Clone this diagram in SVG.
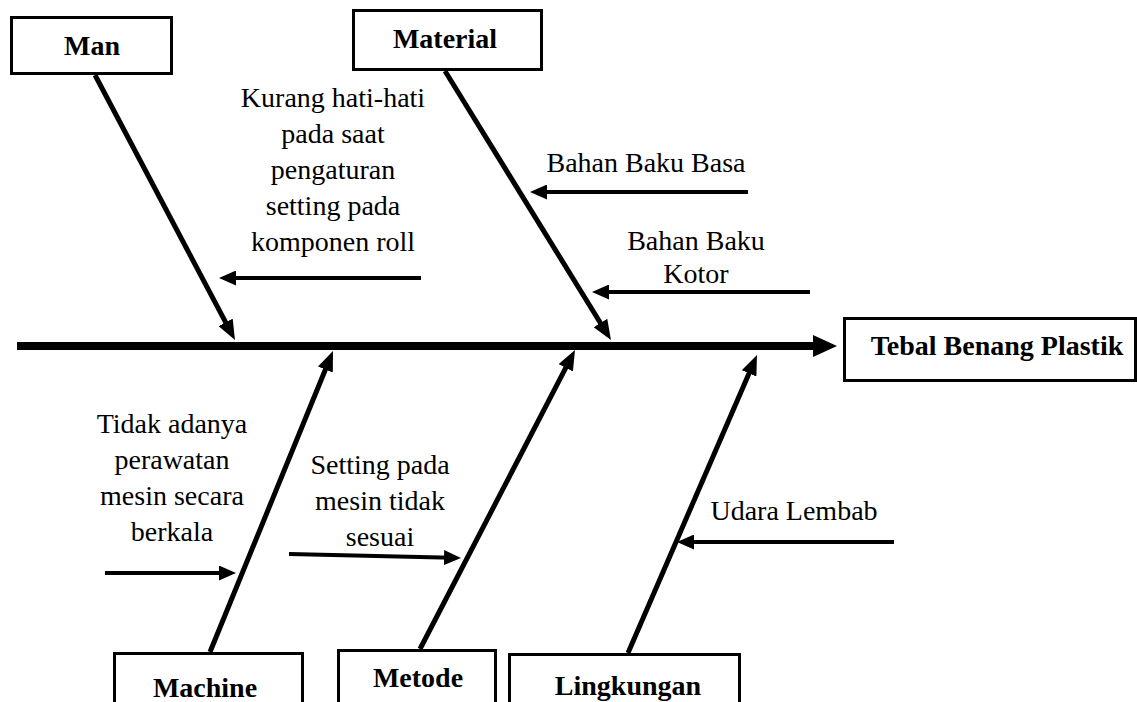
<svg xmlns="http://www.w3.org/2000/svg" width="1137" height="702" viewBox="0 0 1137 702">
  <style>
    .box { fill: #fff; stroke: #000; stroke-width: 3; }
    .lbl { font-family: "Liberation Serif", "Times New Roman", serif; font-size: 28px; font-weight: bold; fill: #000; text-anchor: middle; }
    .txt { font-family: "Liberation Serif", "Times New Roman", serif; font-size: 28px; fill: #000; text-anchor: middle; }
    .spine { stroke: #000; stroke-width: 8; fill: none; marker-end: url(#head-m); }
    .bone { stroke: #000; stroke-width: 5; fill: none; marker-end: url(#head-b); }
    .cause { stroke: #000; stroke-width: 4; fill: none; marker-end: url(#head-s); }
  </style>
  <defs>
    <marker id="head-m" markerUnits="userSpaceOnUse" viewBox="0 0 24 22" markerWidth="24" markerHeight="22" refX="12" refY="11" orient="auto">
      <path d="M0,0 L24,11 L0,22 z" fill="#000"/>
    </marker>
    <marker id="head-b" markerUnits="userSpaceOnUse" viewBox="0 0 20 16" markerWidth="20" markerHeight="16" refX="10" refY="8" orient="auto">
      <path d="M0,0 L20,8 L0,16 z" fill="#000"/>
    </marker>
    <marker id="head-s" markerUnits="userSpaceOnUse" viewBox="0 0 17 15" markerWidth="17" markerHeight="15" refX="8" refY="7.5" orient="auto">
      <path d="M0,0 L17,7.5 L0,15 z" fill="#000"/>
    </marker>
  </defs>

  <rect width="1137" height="702" fill="#fff"/>

  <!-- connectors: spine, category bones and cause arrows -->
  <g id="connectors">
    <line class="spine" x1="17" y1="346" x2="825" y2="346"/>

    <line class="bone" x1="95" y1="75" x2="230.3" y2="331.2"/>
    <line class="bone" x1="445" y1="71" x2="605.7" y2="331.5"/>
    <line class="bone" x1="210" y1="652" x2="329.2" y2="360.3"/>
    <line class="bone" x1="420" y1="649" x2="570.4" y2="358.9"/>
    <line class="bone" x1="628" y1="653" x2="753" y2="364.2"/>

    <line class="cause" x1="421" y1="278" x2="228" y2="278"/>
    <line class="cause" x1="748" y1="192" x2="539" y2="192"/>
    <line class="cause" x1="810" y1="292" x2="601" y2="292"/>
    <line class="cause" x1="105" y1="573" x2="227" y2="573"/>
    <line class="cause" x1="289" y1="554" x2="452" y2="557.8"/>
    <line class="cause" x1="894" y1="542" x2="686" y2="542"/>
  </g>

  <!-- category boxes -->
  <g id="man">
    <rect class="box" x="11.5" y="17.5" width="160" height="56"/>
    <text class="lbl" x="92" y="55">Man</text>
  </g>
  <g id="material">
    <rect class="box" x="353.5" y="10.5" width="188" height="59"/>
    <text class="lbl" x="445" y="48">Material</text>
  </g>
  <g id="effect">
    <rect class="box" x="844.5" y="318.5" width="291" height="62"/>
    <text class="lbl" x="997" y="355">Tebal Benang Plastik</text>
  </g>
  <g id="machine">
    <rect class="box" x="114.5" y="653.5" width="188" height="60"/>
    <text class="lbl" x="205" y="697">Machine</text>
  </g>
  <g id="metode">
    <rect class="box" x="338.5" y="650.5" width="157" height="60"/>
    <text class="lbl" x="418" y="687">Metode</text>
  </g>
  <g id="lingkungan">
    <rect class="box" x="509.5" y="654.5" width="230" height="60"/>
    <text class="lbl" x="628" y="695">Lingkungan</text>
  </g>

  <!-- cause labels -->
  <g id="cause-man">
    <text class="txt" x="333" y="107">Kurang hati-hati</text>
    <text class="txt" x="333" y="143">pada saat</text>
    <text class="txt" x="333" y="179">pengaturan</text>
    <text class="txt" x="333" y="215">setting pada</text>
    <text class="txt" x="333" y="251">komponen roll</text>
  </g>
  <g id="cause-material-1">
    <text class="txt" x="646" y="172">Bahan Baku Basa</text>
  </g>
  <g id="cause-material-2">
    <text class="txt" x="696" y="250">Bahan Baku</text>
    <text class="txt" x="696" y="283">Kotor</text>
  </g>
  <g id="cause-machine">
    <text class="txt" x="172" y="433">Tidak adanya</text>
    <text class="txt" x="172" y="469">perawatan</text>
    <text class="txt" x="172" y="505">mesin secara</text>
    <text class="txt" x="172" y="541">berkala</text>
  </g>
  <g id="cause-metode">
    <text class="txt" x="380" y="474">Setting pada</text>
    <text class="txt" x="380" y="510">mesin tidak</text>
    <text class="txt" x="380" y="546">sesuai</text>
  </g>
  <g id="cause-lingkungan">
    <text class="txt" x="794" y="520">Udara Lembab</text>
  </g>
</svg>
